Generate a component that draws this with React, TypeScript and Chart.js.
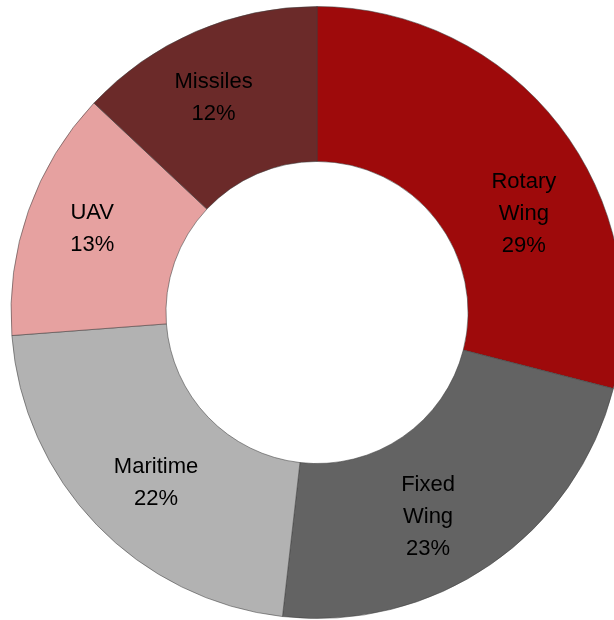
import React, { useEffect, useRef } from "react";
import { Chart, registerables } from "chart.js";

Chart.register(...registerables);

// ---- data ----
const categories = ["Rotary Wing", "Fixed Wing", "Maritime", "UAV", "Missiles"];
const shares = [29.0, 22.8, 22.0, 13.2, 13.0];
const percentLabels = ["29%", "23%", "22%", "13%", "12%"];

// ---- styles ----
const sliceColors = ["#9E0A0B", "#636363", "#B2B2B2", "#E6A1A0", "#6B2A29"];
const labelAngleShift = [12.1, 5.9, -2.5, 1.1, -2.2]; // degrees
const labelRadialShift = [1.0, 3, 5, 11.5, 10.8]; // px

const sliceLabelPlugin = {
  id: "sliceLabels",
  afterDatasetsDraw(chart: any) {
    const meta = chart.getDatasetMeta(0);
    const ctx = chart.ctx as CanvasRenderingContext2D;
    ctx.save();
    ctx.font = '22px "Liberation Sans", Arial, sans-serif';
    ctx.fillStyle = "#000000";
    ctx.textAlign = "center";
    ctx.textBaseline = "middle";
    meta.data.forEach((arc: any, i: number) => {
      const p = arc.getProps(
        ["x", "y", "startAngle", "endAngle", "innerRadius", "outerRadius"],
        true
      );
      const a = (p.startAngle + p.endAngle) / 2 + (labelAngleShift[i] * Math.PI) / 180;
      const r = (p.innerRadius + p.outerRadius) / 2 + labelRadialShift[i];
      const cx = p.x + r * Math.cos(a);
      const cy = p.y + r * Math.sin(a) + 1;
      const lines = [...categories[i].split(" "), percentLabels[i]];
      const lh = 32;
      lines.forEach((t, k) => {
        ctx.fillText(t, cx, cy + (k - (lines.length - 1) / 2) * lh);
      });
    });
    ctx.restore();
  },
};

export default function App() {
  const canvasRef = useRef<HTMLCanvasElement | null>(null);

  useEffect(() => {
    if (!canvasRef.current) return;
    const chart = new Chart(canvasRef.current, {
      type: "doughnut",
      data: {
        labels: categories,
        datasets: [
          {
            data: shares,
            backgroundColor: sliceColors,
            borderColor: "rgba(64,64,64,0.55)",
            borderWidth: 1,
          },
        ],
      },
      options: {
        responsive: false,
        animation: false,
        radius: 306,
        cutout: 154,
        layout: { padding: 0 },
        plugins: {
          legend: { display: false },
          tooltip: { enabled: false },
        },
      },
      plugins: [sliceLabelPlugin],
    });
    return () => chart.destroy();
  }, []);

  return (
    <div
      style={{
        position: "fixed",
        left: 0,
        top: 0,
        width: 614,
        height: 620,
        overflow: "hidden",
        background: "#ffffff",
      }}
    >
      <canvas
        ref={canvasRef}
        width={634}
        height={625}
        style={{ display: "block", width: 634, height: 625 }}
      />
    </div>
  );
}
